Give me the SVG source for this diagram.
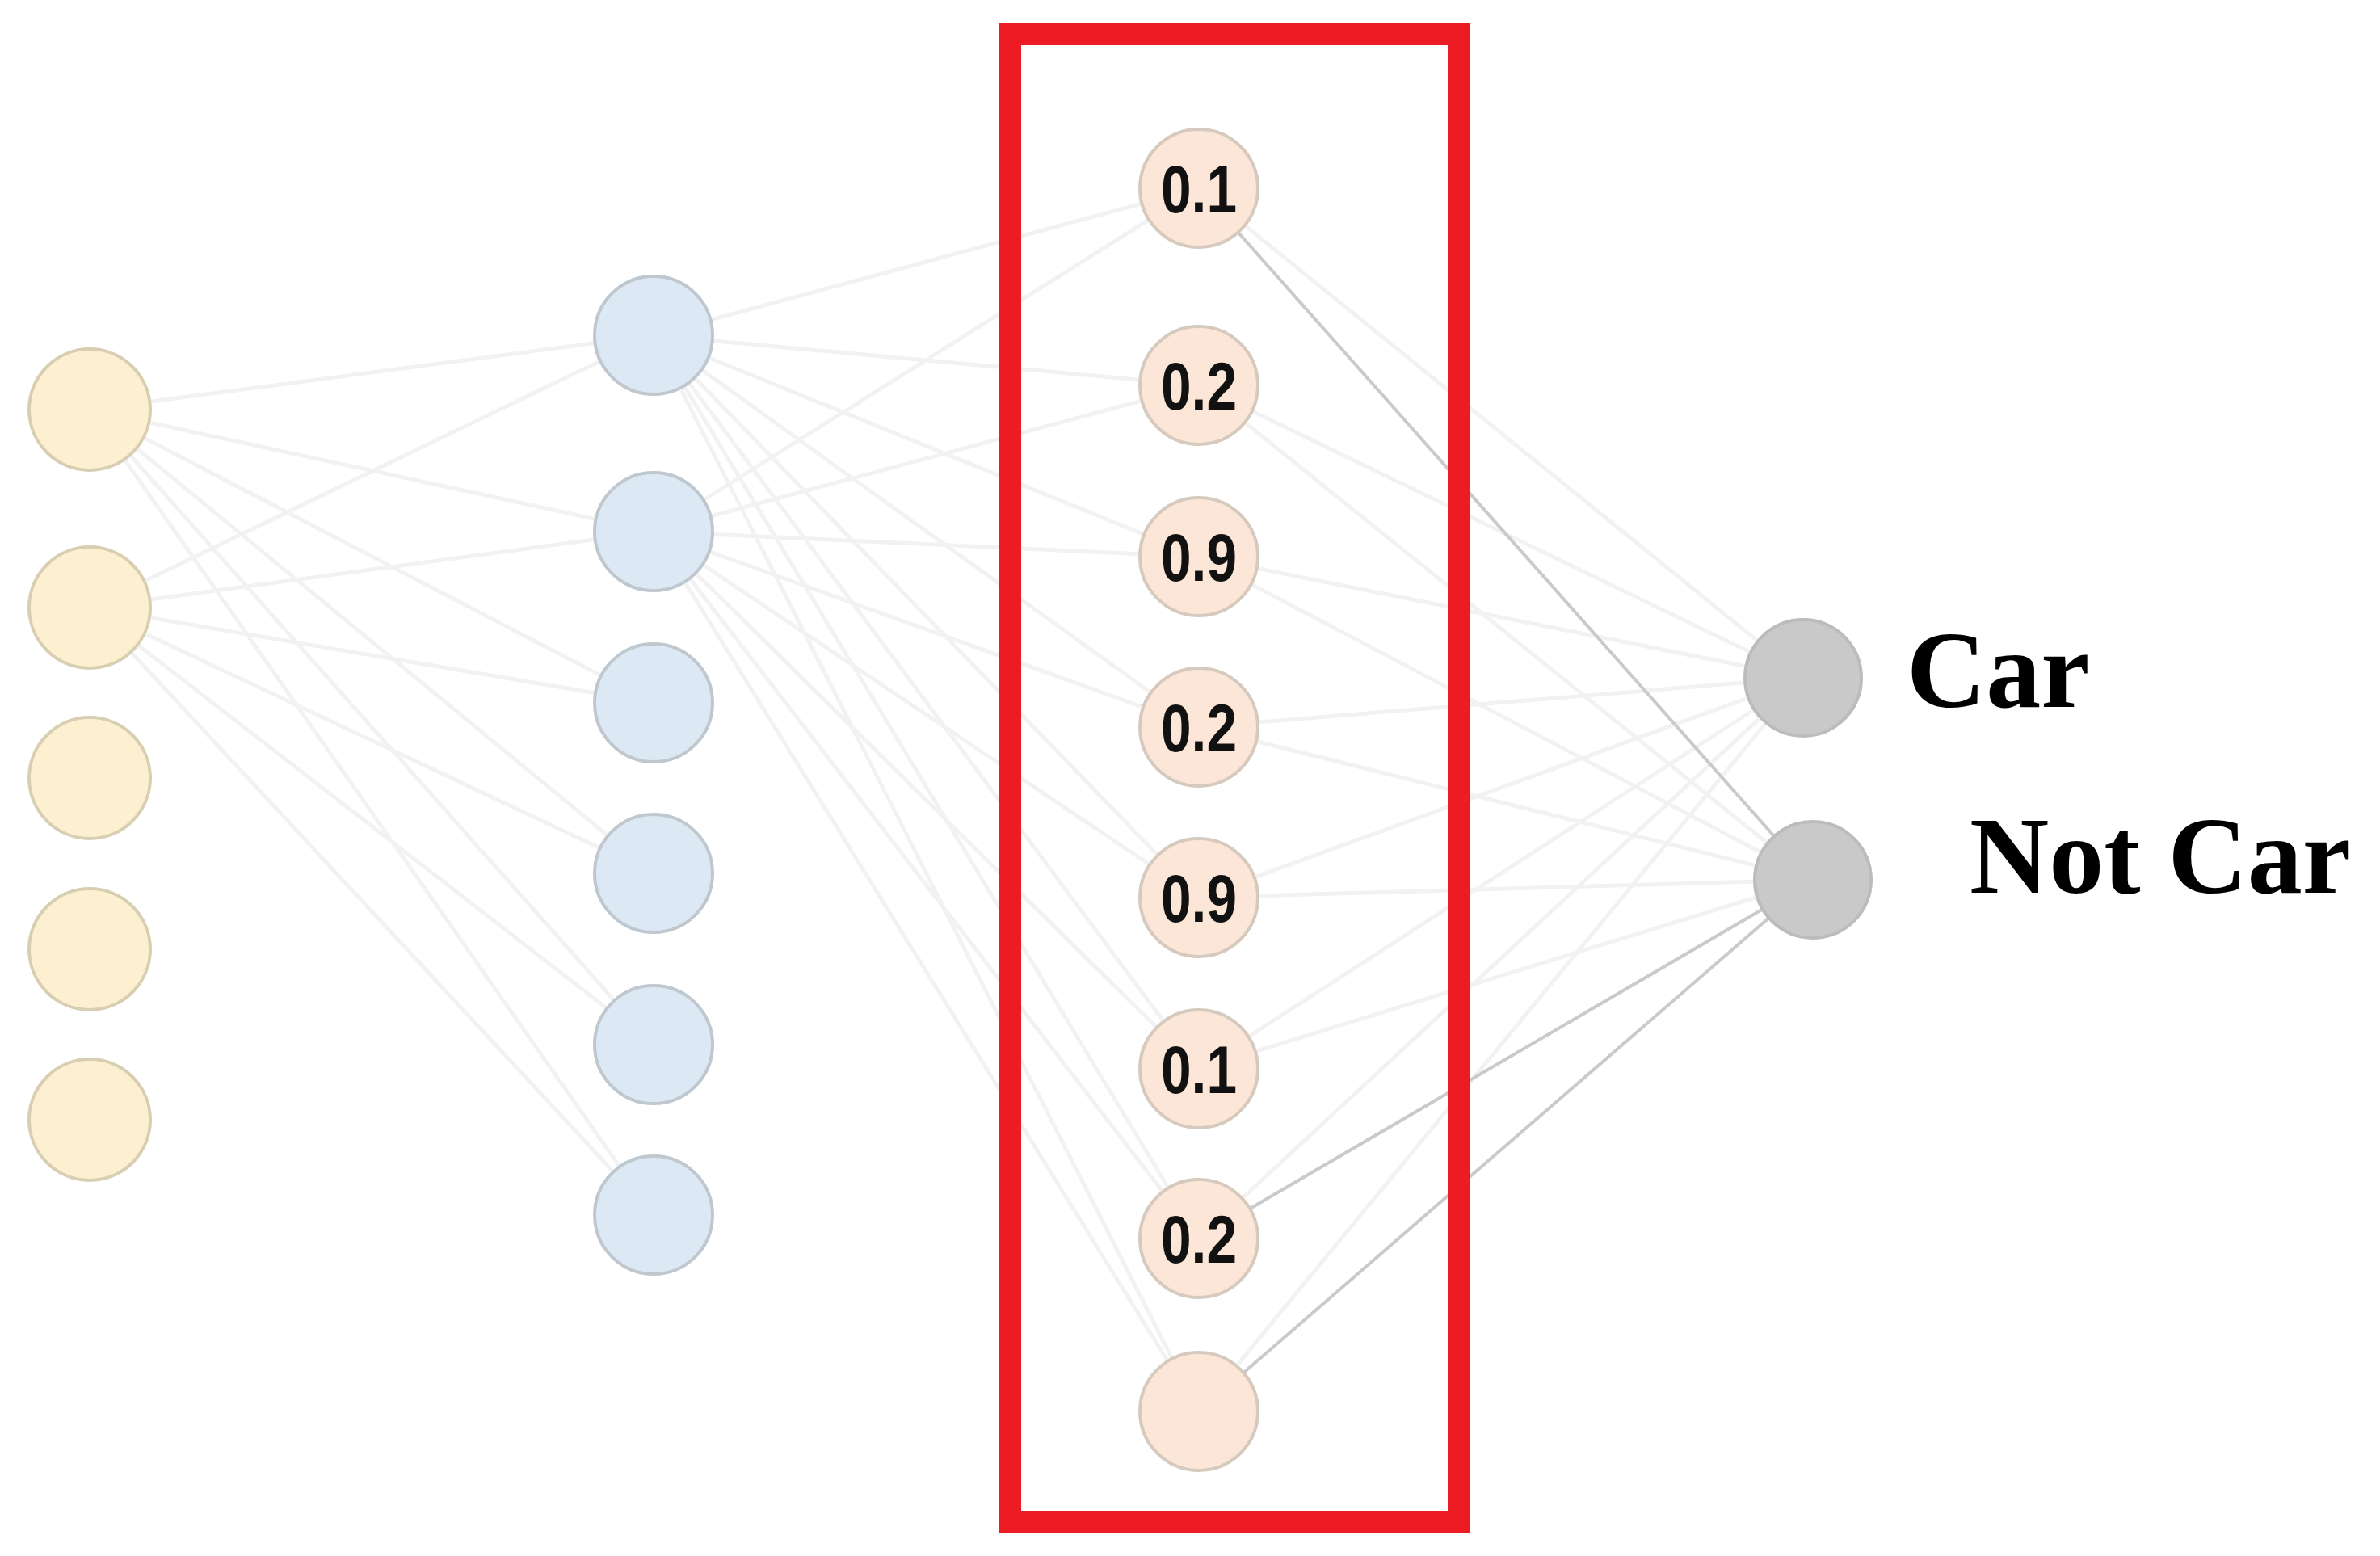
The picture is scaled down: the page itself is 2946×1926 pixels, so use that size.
<svg xmlns="http://www.w3.org/2000/svg" width="2946" height="1926" viewBox="0 0 2946 1926">
<style>
.bg{fill:#ffffff}
.lt{stroke:#f2f2f2;stroke-width:5;fill:none}
.dk{stroke:#cacaca;stroke-width:4;fill:none}
.in{fill:#fdf0d0;stroke:#d8cfb3;stroke-width:4}
.hd{fill:#dde8f5;stroke:#bfc7cf;stroke-width:4}
.pe{fill:#fbe6d7;stroke:#d6cabe;stroke-width:4}
.out{fill:#c9c9c9;stroke:#bcbcbc;stroke-width:4}
.val{font-family:"Liberation Sans",Arial,sans-serif;font-weight:bold;font-size:84px;fill:#111111;text-anchor:middle}
.lbl{font-family:"Liberation Serif","Times New Roman",serif;font-weight:bold;font-size:136px;fill:#000000}
.box{fill:none;stroke:#ed1c24;stroke-width:28}
</style>
<rect class="bg" x="0" y="0" width="2946" height="1926"/>
<g id="connectors">
  <line class="lt" x1="111" y1="507" x2="809" y2="415"/>
  <line class="lt" x1="111" y1="507" x2="809" y2="658"/>
  <line class="lt" x1="111" y1="507" x2="809" y2="870"/>
  <line class="lt" x1="111" y1="507" x2="809" y2="1081"/>
  <line class="lt" x1="111" y1="507" x2="809" y2="1293"/>
  <line class="lt" x1="111" y1="507" x2="809" y2="1504"/>
  <line class="lt" x1="111" y1="752" x2="809" y2="415"/>
  <line class="lt" x1="111" y1="752" x2="809" y2="658"/>
  <line class="lt" x1="111" y1="752" x2="809" y2="870"/>
  <line class="lt" x1="111" y1="752" x2="809" y2="1081"/>
  <line class="lt" x1="111" y1="752" x2="809" y2="1293"/>
  <line class="lt" x1="111" y1="752" x2="809" y2="1504"/>
  <line class="lt" x1="809" y1="415" x2="1484" y2="233"/>
  <line class="lt" x1="809" y1="415" x2="1484" y2="477"/>
  <line class="lt" x1="809" y1="415" x2="1484" y2="689"/>
  <line class="lt" x1="809" y1="415" x2="1484" y2="900"/>
  <line class="lt" x1="809" y1="415" x2="1484" y2="1111"/>
  <line class="lt" x1="809" y1="415" x2="1484" y2="1323"/>
  <line class="lt" x1="809" y1="415" x2="1484" y2="1533"/>
  <line class="lt" x1="809" y1="415" x2="1484" y2="1747"/>
  <line class="lt" x1="809" y1="658" x2="1484" y2="233"/>
  <line class="lt" x1="809" y1="658" x2="1484" y2="477"/>
  <line class="lt" x1="809" y1="658" x2="1484" y2="689"/>
  <line class="lt" x1="809" y1="658" x2="1484" y2="900"/>
  <line class="lt" x1="809" y1="658" x2="1484" y2="1111"/>
  <line class="lt" x1="809" y1="658" x2="1484" y2="1323"/>
  <line class="lt" x1="809" y1="658" x2="1484" y2="1533"/>
  <line class="lt" x1="809" y1="658" x2="1484" y2="1747"/>
  <line class="lt" x1="1484" y1="233" x2="2232" y2="839"/>
  <line class="lt" x1="1484" y1="477" x2="2232" y2="839"/>
  <line class="lt" x1="1484" y1="689" x2="2232" y2="839"/>
  <line class="lt" x1="1484" y1="900" x2="2232" y2="839"/>
  <line class="lt" x1="1484" y1="1111" x2="2232" y2="839"/>
  <line class="lt" x1="1484" y1="1323" x2="2232" y2="839"/>
  <line class="lt" x1="1484" y1="1533" x2="2232" y2="839"/>
  <line class="lt" x1="1484" y1="1747" x2="2232" y2="839"/>
  <line class="lt" x1="1484" y1="477" x2="2244" y2="1089"/>
  <line class="lt" x1="1484" y1="689" x2="2244" y2="1089"/>
  <line class="lt" x1="1484" y1="900" x2="2244" y2="1089"/>
  <line class="lt" x1="1484" y1="1111" x2="2244" y2="1089"/>
  <line class="lt" x1="1484" y1="1323" x2="2244" y2="1089"/>
  <line class="dk" x1="1484" y1="233" x2="2244" y2="1089"/>
  <line class="dk" x1="1484" y1="1533" x2="2244" y2="1089"/>
  <line class="dk" x1="1484" y1="1747" x2="2244" y2="1089"/>
</g>
<g id="input-layer">
  <circle id="in1" class="in" cx="111" cy="507" r="75"/>
  <circle id="in2" class="in" cx="111" cy="752" r="75"/>
  <circle id="in3" class="in" cx="111" cy="963" r="75"/>
  <circle id="in4" class="in" cx="111" cy="1175" r="75"/>
  <circle id="in5" class="in" cx="111" cy="1386" r="75"/>
</g>
<g id="hidden-layer">
  <circle id="h1" class="hd" cx="809" cy="415" r="73"/>
  <circle id="h2" class="hd" cx="809" cy="658" r="73"/>
  <circle id="h3" class="hd" cx="809" cy="870" r="73"/>
  <circle id="h4" class="hd" cx="809" cy="1081" r="73"/>
  <circle id="h5" class="hd" cx="809" cy="1293" r="73"/>
  <circle id="h6" class="hd" cx="809" cy="1504" r="73"/>
</g>
<g id="feature-layer">
  <g id="f1"><circle class="pe" cx="1484" cy="233" r="73"/><text class="val" x="1484" y="263" textLength="94" lengthAdjust="spacingAndGlyphs">0.1</text></g>
  <g id="f2"><circle class="pe" cx="1484" cy="477" r="73"/><text class="val" x="1484" y="507" textLength="94" lengthAdjust="spacingAndGlyphs">0.2</text></g>
  <g id="f3"><circle class="pe" cx="1484" cy="689" r="73"/><text class="val" x="1484" y="719" textLength="94" lengthAdjust="spacingAndGlyphs">0.9</text></g>
  <g id="f4"><circle class="pe" cx="1484" cy="900" r="73"/><text class="val" x="1484" y="930" textLength="94" lengthAdjust="spacingAndGlyphs">0.2</text></g>
  <g id="f5"><circle class="pe" cx="1484" cy="1111" r="73"/><text class="val" x="1484" y="1141" textLength="94" lengthAdjust="spacingAndGlyphs">0.9</text></g>
  <g id="f6"><circle class="pe" cx="1484" cy="1323" r="73"/><text class="val" x="1484" y="1353" textLength="94" lengthAdjust="spacingAndGlyphs">0.1</text></g>
  <g id="f7"><circle class="pe" cx="1484" cy="1533" r="73"/><text class="val" x="1484" y="1563" textLength="94" lengthAdjust="spacingAndGlyphs">0.2</text></g>
  <g id="f8"><circle class="pe" cx="1484" cy="1747" r="73"/></g>
</g>
<g id="highlight">
  <rect class="box" x="1250" y="42" width="556" height="1842"/>
</g>
<g id="output-layer">
  <g id="car"><circle class="out" cx="2232" cy="839" r="72"/><text class="lbl" x="2360" y="875">Car</text></g>
  <g id="notcar"><circle class="out" cx="2244" cy="1089" r="72"/><text class="lbl" x="2438" y="1105">Not Car</text></g>
</g>
</svg>
